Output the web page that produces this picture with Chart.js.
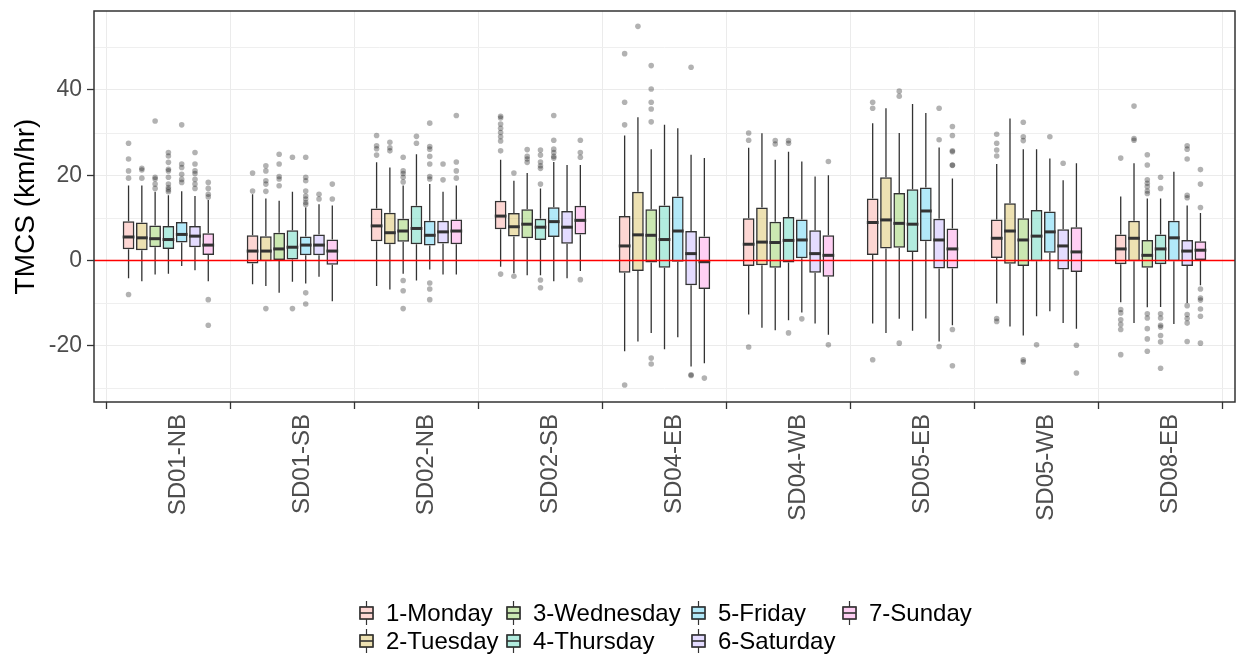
<!DOCTYPE html>
<html>
<head>
<meta charset="utf-8">
<script src="https://cdn.jsdelivr.net/npm/chart.js@4.4.1/dist/chart.umd.min.js"></script>
<style>
  body { margin: 0; background: #fff; }
  #wrap { position: relative; width: 1238px; height: 655px; }
  .lg-item { position: absolute; display: flex; align-items: center; height: 28px;
             font-family: "Liberation Sans", Arial, sans-serif; font-size: 24px; color: #000; white-space: nowrap; }
  .lg-item svg { margin-right: 12px; }
</style>
</head>
<body>
<div id="wrap">
  <canvas id="chart" width="1238" height="655"></canvas>
  <div id="legend"></div>
</div>
<script>
// categories and series
const sites = ['SD01-NB', 'SD01-SB', 'SD02-NB', 'SD02-SB', 'SD04-EB', 'SD04-WB', 'SD05-EB', 'SD05-WB', 'SD08-EB'];
const days = ['1-Monday', '2-Tuesday', '3-Wednesday', '4-Thursday', '5-Friday', '6-Saturday', '7-Sunday'];
const hues = ['248,118,109', '196,154,0', '83,180,0', '0,192,148', '0,182,235', '165,138,255', '251,97,215'];

// one row per day, one value per site
const lower = [
  [-4.2, -5.6, -6.0, -1.5, -21.3, -12.7, -14.8, -10.1, -9.8],
  [-4.9, -6.0, -6.8, -3.0, -19.0, -15.8, -17.0, -15.5, -14.7],
  [-3.3, -7.6, -3.1, -3.5, -17.0, -16.4, -13.7, -17.6, -11.0],
  [-3.1, -5.0, -4.7, -3.5, -20.8, -14.0, -16.5, -13.1, -10.9],
  [-1.3, -5.4, -2.1, -4.9, -18.0, -12.2, -13.6, -11.9, -14.9],
  [-2.3, -3.8, -3.3, -4.2, -24.9, -14.8, -19.0, -14.7, -10.0],
  [-4.9, -9.6, -3.3, -2.5, -24.1, -17.4, -15.2, -16.0, -5.8]
];
const q1 = [
  [2.6, -0.7, 4.5, 7.3, -2.9, -1.3, 1.3, 0.6, -0.9],
  [2.4, -0.2, 3.8, 5.6, -2.5, -1.1, 2.8, -0.8, -0.2],
  [3.1, 0.1, 4.4, 5.2, -0.5, -1.7, 3.0, -1.3, -1.7],
  [2.7, 0.2, 3.8, 4.8, -1.7, -0.5, 2.0, -0.2, -0.9],
  [4.2, 1.2, 3.5, 5.5, -0.3, 0.5, 4.5, 1.8, -0.2],
  [3.1, 1.2, 4.0, 3.9, -5.8, -2.9, -1.9, -2.1, -1.3],
  [1.3, -1.0, 3.8, 6.1, -6.7, -3.8, -1.9, -2.7, 0.0]
];
const median = [
  [5.5, 2.2, 8.1, 10.4, 3.4, 3.8, 8.9, 5.2, 2.7],
  [5.3, 2.2, 6.5, 7.9, 6.0, 4.3, 9.5, 6.9, 5.2],
  [5.1, 2.7, 6.9, 8.5, 5.9, 4.2, 8.7, 4.8, 1.2],
  [4.9, 3.1, 7.5, 7.8, 4.9, 4.7, 8.5, 5.7, 2.7],
  [6.1, 3.6, 5.9, 9.1, 6.9, 4.8, 11.6, 6.7, 5.3],
  [5.7, 3.6, 6.7, 7.8, 1.6, 1.6, 4.8, 3.4, 2.2],
  [3.6, 2.2, 6.9, 9.4, -0.3, 1.2, 2.7, 2.0, 2.4]
];
const q3 = [
  [9.2, 5.9, 12.2, 14.0, 10.4, 9.9, 14.5, 9.6, 6.1],
  [8.9, 5.7, 11.2, 11.1, 16.1, 12.4, 19.5, 13.4, 9.3],
  [8.2, 6.5, 9.8, 12.0, 12.0, 9.1, 15.8, 9.9, 4.8],
  [8.1, 7.1, 12.8, 9.8, 12.9, 10.2, 16.7, 11.8, 6.1],
  [9.0, 5.6, 9.3, 12.5, 15.0, 9.6, 17.1, 11.5, 9.3],
  [8.1, 6.1, 9.3, 11.6, 6.9, 7.1, 9.8, 7.3, 4.8],
  [6.4, 4.9, 9.6, 12.8, 5.6, 5.9, 7.5, 7.8, 4.5]
];
const upper = [
  [17.6, 15.5, 23.0, 23.6, 29.3, 26.4, 32.2, 22.6, 15.0],
  [17.6, 14.5, 21.8, 18.7, 33.6, 29.8, 35.7, 33.3, 22.8],
  [16.1, 14.0, 17.6, 20.5, 26.1, 23.6, 29.9, 26.1, 14.5],
  [15.3, 16.1, 24.9, 16.9, 31.8, 25.5, 36.7, 26.1, 14.5],
  [16.2, 12.4, 17.9, 23.1, 31.0, 23.2, 34.6, 23.9, 20.8],
  [15.1, 13.2, 16.1, 22.4, 24.8, 19.7, 26.5, 18.8, 12.9],
  [14.2, 12.9, 17.6, 22.4, 24.0, 20.0, 19.2, 22.8, 11.1]
];
const outliers = [
  [[27.5, 23.8, 21, 19.3, -8], [20.5, 16.3], [29.3, 26.9, 26.2, 24.7], [33.8, 33.4, 32, 31, 30, 29, 28, 25.7, -3.2],
   [48.5, 37.1, 31.8, -29.2], [29.9, 28.2, -20.3], [37.1, 35.7, -23.3], [29.6, 27.5, 25.9, 24.5, -13.6, -14.3],
   [24, -11.5, -12.3, -13.9, -15, -16.2, -22.1]],
  [[21.6, 21.2, 19.3], [22.2, 21, 18.7, 17.9, 16.2, -11.3], [27.7, 26.4, 25.7], [20.5, -3.7],
   [54.9], [], [], [], [36.2, 28.6, 28.2]],
  [[32.7, 19.5, 19.1, 17.9, 16.9], [24.9, 22.6, 19.7, 19.1, 17.5], [24.2, 21, 20.4, 19.5, 18.4, -4.7, -7.1, -11.3],
   [26, 24.4, 23.8, 23], [45.7, 40.2, 37.1, 35.5, 32.5, -22.9, -24.3], [28.1, 27.3], [39.7, 38.5, -19.4],
   [32.4, 29, 28.1, -23.3, -23.8], [24.8, 22.4, 18.9, 18.1, 17.3, 16.3, 15.7, -12.5, -13.5, -16, -18.4, -21.3]],
  [[25.3, 24.5, 23, 21.4, 21, 19.5, 17.9, 17.1, 16.6, 16.1], [24.2, -11.3], [29.1, 27.5],
   [25.9, 24.7, 23.1, 22.2, 21.6, 17.9, -4.6, -6.4], [], [28.1, 27.5, -17], [], [-19.8],
   [19.5, 16.9, -12.5, -13.5, -15.2, -15.6, -17.6, -19.1, -25.3]],
  [[31.8, 22.6, 21.8, 20.2, 19, 18.3], [24.2, 19.5, 18.7, 16.3, 15.1, 14.4, 13.6, 13.1, -7.6, -10.2],
   [32.2, 26.7, 26.1, 24.4, 22.6, 19.7, 19.1, -5.3, -6.7, -9.2], [34, 28.2, 26.1, 25.3, 24.4, 24],
   [], [-13.7], [], [29], []],
  [[25.3, 22.6, 21, 20.4, 19, 17.9, 16.9], [15.5, 14.4], [22.6, 18.9], [], [45.3, -26.8, -27], [],
   [35.7, 28.3, -20.2], [22.8], [26.9, 26.1, 23.8, 15.3, 14.7, -10.6, -12.7, -13.6, -14.7, -19]],
  [[18.3, 16.9, 15.5, 14.9, -9.2, -15.2], [17.9, 14.4], [34, 23.1, 21, 19.3], [28.2, 25.3, 24.2, -4.5],
   [-27.6], [23.2, -19.8], [31.4, 29.3, 25.7, 25.5, 22.4, 22.3, -16.2, -24.7], [-19.9, -26.4],
   [21.3, 17.9, 12.4, -6.7, -8.8, -9.3, -11.4, -13.1, -19.4]]
];
const yTicks = [-20, 0, 20, 40];
const yMinorTicks = [-30, -10, 10, 30, 50];

const FONT = '"Liberation Sans", Arial, sans-serif';

// minor grid lines under the boxes
const minorGrid = {
  id: 'minorGrid',
  beforeDatasetsDraw(chart) {
    const { ctx, chartArea: area } = chart;
    const y = chart.scales.y;
    ctx.save();
    ctx.strokeStyle = '#efefef';
    ctx.lineWidth = 1;
    yMinorTicks.forEach(v => {
      const py = Math.round(y.getPixelForValue(v)) + 0.5;
      ctx.beginPath();
      ctx.moveTo(area.left, py);
      ctx.lineTo(area.right, py);
      ctx.stroke();
    });
    ctx.restore();
  }
};

// whiskers, medians, outliers, zero line and panel border
const boxParts = {
  id: 'boxParts',
  afterDatasetsDraw(chart) {
    const { ctx, chartArea: area } = chart;
    const y = chart.scales.y;
    ctx.save();
    ctx.beginPath();
    ctx.rect(area.left, area.top, area.width, area.height);
    ctx.clip();
    chart.data.datasets.forEach((ds, d) => {
      chart.getDatasetMeta(d).data.forEach((bar, i) => {
        const x = bar.x, half = bar.width / 2;
        ctx.strokeStyle = '#333';
        ctx.lineWidth = 1.3;
        ctx.beginPath();
        ctx.moveTo(x, y.getPixelForValue(q3[d][i]));
        ctx.lineTo(x, y.getPixelForValue(upper[d][i]));
        ctx.moveTo(x, y.getPixelForValue(q1[d][i]));
        ctx.lineTo(x, y.getPixelForValue(lower[d][i]));
        ctx.stroke();

        const ym = y.getPixelForValue(median[d][i]);
        ctx.lineWidth = 3;
        ctx.beginPath();
        ctx.moveTo(x - half, ym);
        ctx.lineTo(x + half, ym);
        ctx.stroke();

        ctx.fillStyle = 'rgba(0,0,0,0.3)';
        outliers[d][i].forEach(v => {
          ctx.beginPath();
          ctx.arc(x, y.getPixelForValue(v), 2.8, 0, Math.PI * 2);
          ctx.fill();
        });
      });
    });

    const y0 = y.getPixelForValue(0);
    ctx.strokeStyle = '#ff0000';
    ctx.lineWidth = 1.5;
    ctx.beginPath();
    ctx.moveTo(area.left, y0);
    ctx.lineTo(area.right, y0);
    ctx.stroke();
    ctx.restore();

    ctx.save();
    ctx.strokeStyle = '#333';
    ctx.lineWidth = 1.5;
    ctx.strokeRect(area.left, area.top, area.width, area.height);
    ctx.restore();
  }
};

const datasets = days.map((day, d) => ({
  label: day,
  data: sites.map((s, i) => ({ x: i, y: [q1[d][i], q3[d][i]] })),
  backgroundColor: 'rgba(' + hues[d] + ',0.3)',
  borderColor: '#333',
  borderWidth: 1.5,
  borderSkipped: false,
  categoryPercentage: 0.75,
  barPercentage: 0.88
}));

new Chart(document.getElementById('chart'), {
  type: 'bar',
  data: { datasets },
  options: {
    responsive: false,
    animation: false,
    layout: { padding: { top: 11, right: 3, left: 0, bottom: 0 } },
    plugins: { legend: { display: false }, tooltip: { enabled: false } },
    scales: {
      x: {
        type: 'linear',
        min: -0.6,
        max: 8.6,
        offset: false,
        afterBuildTicks: ax => { ax.ticks = sites.map((s, i) => ({ value: i })); },
        afterFit: ax => { ax.height = 655 - 402; },
        ticks: {
          callback: v => sites[v],
          autoSkip: false,
          minRotation: 90,
          maxRotation: 90,
          labelOffset: 10,
          padding: 5,
          color: '#4d4d4d',
          font: { family: FONT, size: 24 }
        },
        grid: { color: '#ebebeb', lineWidth: 1, tickColor: '#333', tickLength: 7, tickWidth: 1.3 },
        border: { display: false }
      },
      y: {
        min: -33.2,
        max: 58.5,
        afterBuildTicks: ax => { ax.ticks = yTicks.map(v => ({ value: v })); },
        afterFit: ax => { ax.width = 94; ax.paddingTop = 0; ax.paddingBottom = 0; },
        ticks: {
          callback: v => String(v),
          padding: 5,
          color: '#4d4d4d',
          font: { family: FONT, size: 23 }
        },
        grid: { color: '#ebebeb', tickColor: '#333', tickLength: 7, tickWidth: 1.3 },
        border: { display: false },
        title: {
          display: true,
          text: 'TMCS (km/hr)',
          color: '#000',
          font: { family: FONT, size: 28 },
          padding: { top: 9, bottom: 0 }
        }
      }
    }
  },
  plugins: [minorGrid, boxParts]
});

// legend laid out column by column like the original
const legendCols = [359, 506, 691, 842];
const legendRows = [613, 641];
const legend = document.getElementById('legend');
days.forEach((day, d) => {
  const col = Math.floor(d / 2), row = d % 2;
  const item = document.createElement('div');
  item.className = 'lg-item';
  item.style.left = legendCols[col] + 'px';
  item.style.top = (legendRows[row] - 14) + 'px';
  item.innerHTML =
    '<svg width="15" height="26" viewBox="0 0 15 26">' +
    '<line x1="7.5" y1="1" x2="7.5" y2="25" stroke="#333" stroke-width="1.2"/>' +
    '<rect x="1" y="7" width="13" height="12" fill="rgb(255,255,255)" stroke="#333" stroke-width="1.3"/>' +
    '<rect x="1" y="7" width="13" height="12" fill="rgba(' + hues[d] + ',0.3)" stroke="#333" stroke-width="1.3"/>' +
    '<line x1="1" y1="13" x2="14" y2="13" stroke="#333" stroke-width="1.6"/>' +
    '</svg><span>' + day + '</span>';
  legend.appendChild(item);
});
</script>
</body>
</html>
